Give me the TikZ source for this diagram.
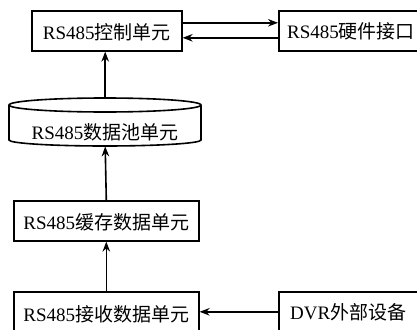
\documentclass[tikz,border=0pt]{standalone}
\usepackage{fontspec}
\setmainfont{Liberation Serif}
\newfontfamily\cjk{Noto Sans CJK SC}
\usetikzlibrary{arrows.meta}
\tikzset{
  unitbox/.style={draw, line width=1.6pt, minimum height=40pt, inner sep=0pt, anchor=north west},
  lbl/.style={font=\fontsize{19}{22}\selectfont},
  conn/.style={line width=1.6pt, -{Stealth[length=10pt,width=7.5pt]}}
}
\begin{document}
\begin{tikzpicture}[x=1pt,y=-1pt]
\useasboundingbox (0,0) rectangle (417,329);
\clip (0,0) rectangle (417,329);
% boxes
\node[unitbox, minimum width=150pt] (ctrl) at (31,10) {};
\node[lbl] at ([yshift=-1pt]ctrl.center) {RS485{\cjk 控制单元}};
\node[unitbox, minimum width=148pt] (hw) at (278,10) {};
\node[lbl, anchor=west, inner sep=0pt] at (287,31) {RS485{\cjk 硬件接口}};
% cylinder
\node[minimum width=192pt, minimum height=48pt, inner sep=0pt, anchor=north west] (pool) at (9,98) {};
\draw[line width=1.6pt] (105,105) ellipse [x radius=96, y radius=7];
\draw[line width=1.6pt] (9,105) -- (9,140) arc[start angle=180, end angle=0, x radius=96, y radius=6] -- (201,105);
\node[lbl] at (105,132) {RS485{\cjk 数据池单元}};
\node[unitbox, minimum width=185pt] (buf) at (13,200) {};
\node[lbl] at ([yshift=-1pt]buf.center) {RS485{\cjk 缓存数据单元}};
\node[unitbox, minimum width=185pt] (recv) at (13,291) {};
\node[lbl] at ([yshift=-2pt]recv.center) {RS485{\cjk 接收数据单元}};
\node[unitbox, minimum width=148pt] (dvr) at (278,291) {};
\node[lbl, anchor=west, inner sep=0pt] at (290,312) {DVR{\cjk 外部设备}};
% connectors
\draw[conn] ([yshift=8pt]ctrl.east) -- ([yshift=8pt]ctrl.east -| hw.west);
\draw[conn] ([yshift=-7pt]hw.west) -- ([yshift=-7pt]hw.west -| ctrl.east);
\draw[conn] (pool.north) -- (pool.north |- ctrl.south);
\draw[conn] (buf.north) -- (pool.south);
\draw[conn] (recv.north) -- (buf.south);
\draw[conn] (dvr.west) -- (dvr.west -| recv.east);
\end{tikzpicture}
\end{document}
